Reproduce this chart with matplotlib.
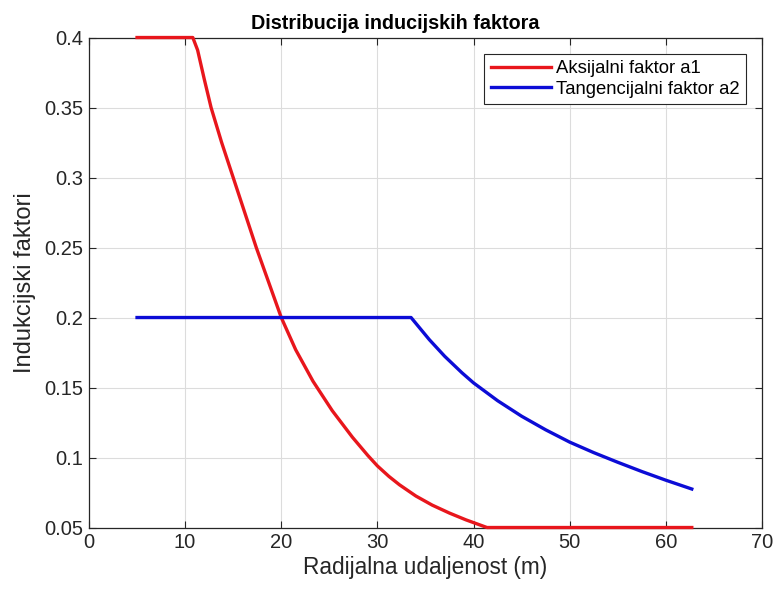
import numpy as np
import matplotlib

matplotlib.use("Agg")
import matplotlib.pyplot as plt

plt.rcParams["font.family"] = ["Liberation Sans", "DejaVu Sans"]

# radial position (m) and axial induction factor a1
r_a1 = [5.0, 10.8, 11.3, 12.0, 12.7, 13.8, 15.0, 16.2, 17.4, 18.7, 20.0,
        21.5, 23.3, 25.3, 27.4, 29.0, 30.0, 31.2, 32.3, 34.0, 35.7, 37.5,
        39.2, 41.4, 62.7]
a1 = [0.4, 0.4, 0.391, 0.37, 0.35, 0.325, 0.30, 0.275, 0.25, 0.225, 0.20,
      0.177, 0.1545, 0.1335, 0.1145, 0.1015, 0.094, 0.0865, 0.0805, 0.0725,
      0.066, 0.0603, 0.0555, 0.05, 0.05]

# radial position (m) and tangential induction factor a2
r_a2 = [5.0, 33.5, 35.4, 37.0, 38.8, 40.0, 42.5, 45.0, 47.5, 50.0, 52.5,
        55.0, 57.5, 60.0, 62.7]
a2 = [0.2, 0.2, 0.1842, 0.1723, 0.1605, 0.1533, 0.1406, 0.1295, 0.1198, 0.111,
      0.1035, 0.0966, 0.09, 0.0838, 0.0775]

fig = plt.figure(figsize=(7.75, 5.9), dpi=100)
ax = fig.add_axes([0.1148, 0.1059, 0.8684, 0.8305])

ax.plot(r_a1, a1, color="#e8161c", lw=2.4, clip_on=False, zorder=3,
        label="Aksijalni faktor a1")
ax.plot(r_a2, a2, color="#0c0cd6", lw=2.4, clip_on=False, zorder=3,
        label="Tangencijalni faktor a2")

ax.set_xlim(0, 70)
ax.set_ylim(0.05, 0.4)
ax.set_xticks(np.arange(0, 71, 10))
ax.set_yticks(np.arange(0.05, 0.401, 0.05))
ax.set_yticklabels(["0.05", "0.1", "0.15", "0.2", "0.25", "0.3", "0.35", "0.4"])

ax.grid(True, color="#dcdcdc", lw=0.8)
ax.set_axisbelow(True)
ax.tick_params(direction="in", top=True, right=True, labelsize=14.5,
               colors="#262626", length=5, pad=4)
for s in ax.spines.values():
    s.set_color("#262626")
    s.set_linewidth(0.9)

ax.set_title("Distribucija inducijskih faktora", fontsize=14.2, fontweight="bold",
             pad=6, x=0.4547)
ax.set_xlabel("Radijalna udaljenost (m)", fontsize=16.3, color="#262626", labelpad=3)
ax.set_ylabel("Indukcijski faktori", fontsize=17, color="#262626", labelpad=6)

leg = ax.legend(loc="upper right", fontsize=13.3, handlelength=3.25, fancybox=False,
                framealpha=1, edgecolor="#262626", borderaxespad=0.88,
                borderpad=0.35, labelspacing=0.2, handletextpad=0.28)
leg.get_frame().set_linewidth(0.8)

fig.savefig("out.png", dpi=100)
